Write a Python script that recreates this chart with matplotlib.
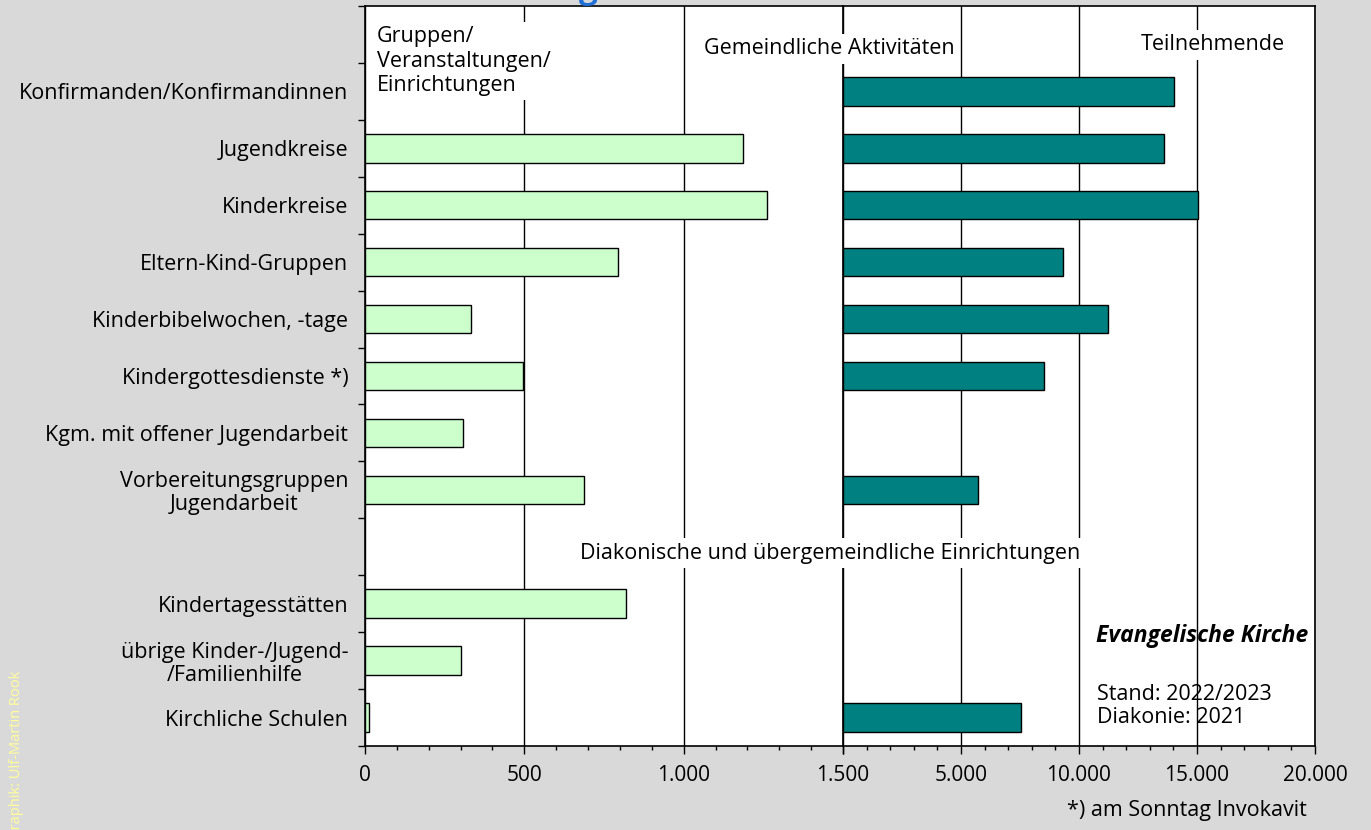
import numpy as np
import matplotlib.pyplot as plt
from matplotlib.ticker import MultipleLocator, FuncFormatter

plt.rcParams['font.family'] = ['Open Sans', 'DejaVu Sans']

# Daten
kategorien = ['Konfirmanden/Konfirmandinnen', 'Jugendkreise', 'Kinderkreise',
              'Eltern-Kind-Gruppen', 'Kinderbibelwochen, -tage',
              'Kindergottesdienste *)', 'Kgm. mit offener Jugendarbeit',
              'Vorbereitungsgruppen\nJugendarbeit', '',
              'Kindertagesstätten', 'übrige Kinder-/Jugend-\n/Familienhilfe',
              'Kirchliche Schulen']
gruppen = [np.nan, 1185, 1262, 794, 334, 497, 306, 688, np.nan, 819, 300, 12]
teilnehmende = [14030, 13600, 15040, 9320, 11230, 8520, np.nan, 5720,
                np.nan, np.nan, np.nan, 7540]

W, H = 1371, 830
bg = '#d9d9d9'
hellgruen = '#ccffcc'
petrol = '#008080'
fs = 15.5

fig = plt.figure(figsize=(W / 100, H / 100), dpi=100, facecolor=bg)

def box(x0, x1, y0=6, y1=746):
    return [x0 / W, 1 - y1 / H, (x1 - x0) / W, (y1 - y0) / H]

ax1 = fig.add_axes(box(365, 843))
ax2 = fig.add_axes(box(843, 1315), sharey=ax1)

y = np.arange(len(kategorien)) + 1.5
g = np.array(gruppen, dtype=float)
t = np.array(teilnehmende, dtype=float)
mg = ~np.isnan(g)
mt = ~np.isnan(t)

ax1.barh(y[mg], g[mg], height=0.5, color=hellgruen, edgecolor='black', lw=1, zorder=3)
ax2.barh(y[mt], t[mt], height=0.5, color=petrol, edgecolor='black', lw=1, zorder=3)

def tausender(v, pos):
    return f'{int(round(v)):,}'.replace(',', '.')

ax1.set_xlim(0, 1500)
ax1.xaxis.set_major_locator(MultipleLocator(500))
ax1.xaxis.set_minor_locator(MultipleLocator(100))
ax1.xaxis.set_major_formatter(FuncFormatter(tausender))

ax2.set_xlim(0, 20000)
ax2.xaxis.set_major_locator(MultipleLocator(5000))
ax2.xaxis.set_minor_locator(MultipleLocator(1000))
ax2.xaxis.set_major_formatter(FuncFormatter(lambda v, p: '' if v == 0 else tausender(v, p)))

ax1.set_ylim(13, 0)
ax1.set_yticks(y, kategorien)
ax1.set_yticks(np.arange(0, 14), minor=True)
ax1.tick_params(axis='y', which='major', length=0, pad=12, labelsize=fs)
ax1.tick_params(axis='y', which='minor', length=5, width=1, direction='out')
for lbl in ax1.get_yticklabels():
    lbl.set_multialignment('center')
    lbl.set_linespacing(1.12)
ax2.tick_params(axis='y', which='both', left=False, labelleft=False)

for ax in (ax1, ax2):
    ax.set_facecolor('white')
    ax.tick_params(axis='x', which='major', length=6, width=1, pad=8, labelsize=15)
    ax.tick_params(axis='x', which='minor', length=3, width=1)
    ax.grid(axis='x', which='major', color='black', lw=1, zorder=1)
    for s in ax.spines.values():
        s.set_color('black')
        s.set_linewidth(1.2)
ax1.spines['right'].set_visible(False)

def ptxt(x, y, s, **kw):
    return fig.text(x / W, 1 - y / H, s, **kw)

weiss = dict(facecolor='white', edgecolor='none', pad=3)

ptxt(377, 26, 'Gruppen/\nVeranstaltungen/\nEinrichtungen', fontsize=fs, va='top',
     ha='left', linespacing=1.22, bbox=weiss)
ptxt(829, 49, 'Gemeindliche Aktivitäten', fontsize=fs, va='center', ha='center', bbox=weiss)
ptxt(1213, 45, 'Teilnehmende', fontsize=fs, va='center', ha='center', bbox=weiss)
ptxt(830, 553, 'Diakonische und übergemeindliche Einrichtungen', fontsize=fs,
     va='center', ha='center', bbox=weiss)
ptxt(1308, 636, 'Evangelische Kirche', fontsize=fs + 1, fontweight='bold',
     fontstyle='italic', va='center', ha='right')
ptxt(1097, 706, 'Stand: 2022/2023\nDiakonie: 2021', fontsize=fs, va='center',
     ha='left', linespacing=1.15)
ptxt(1307, 810, '*) am Sonntag Invokavit', fontsize=fs, va='center', ha='right')
ptxt(598, -2, 'Kinder- und Familienförderung', fontsize=24, fontweight='bold',
     color='#1f6fd6', ha='right', va='baseline')
ptxt(17, 840, 'Graphik: Ulf-Martin Rook', fontsize=10.5, color='#ffff99', rotation=90,
     ha='center', va='bottom')

fig.savefig('out.png', dpi=100, facecolor=bg)
